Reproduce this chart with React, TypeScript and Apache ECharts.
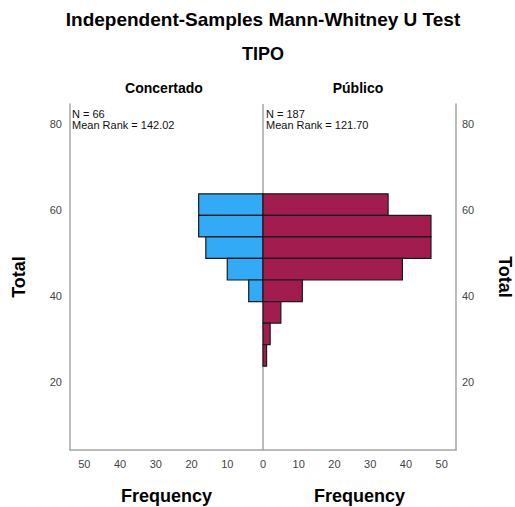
import React, { useEffect, useRef } from "react";
import * as echarts from "echarts";

const groups = ["Concertado", "Público"];
const nValues = [66, 187];
const meanRanks = ["142.02", "121.70"];
// bin edges of Total (low, high)
const binLows = [58.75, 53.75, 48.75, 43.75, 38.75, 33.75, 28.75, 23.75];
const binWidth = 5;
const concertadoFreq = [18, 18, 16, 10, 4, 0, 0, 0];
const publicoFreq = [35, 47, 47, 39, 11, 5, 2, 1];
const freqTicks = [0, 10, 20, 30, 40, 50];
const totalTicks = [20, 40, 60, 80];

const FONT = "Liberation Sans, Arial, sans-serif";
const AXIS_GRAY = "#a6a6a6";
const BLUE = "#33aaf5";
const RED = "#a31c4f";

function makeData(freq: number[]) {
  return binLows
    .map((lo, i) => [lo, lo + binWidth, freq[i]])
    .filter((d) => d[2] > 0);
}

function renderBar(color: string) {
  return (params: any, api: any) => {
    const lo = api.value(0);
    const hi = api.value(1);
    const f = api.value(2);
    const p1 = api.coord([0, hi]);
    const p2 = api.coord([f, lo]);
    const x = Math.min(p1[0], p2[0]);
    const w = Math.abs(p2[0] - p1[0]);
    const y = Math.min(p1[1], p2[1]);
    const h = Math.abs(p2[1] - p1[1]);
    return {
      type: "rect",
      shape: { x, y, width: w, height: h },
      style: { fill: color, stroke: "#1a1a1a", lineWidth: 1.2 },
    };
  };
}

export default function App() {
  const ref = useRef<HTMLDivElement>(null);
  useEffect(() => {
    if (!ref.current) return;
    const chart = echarts.init(ref.current, null, { renderer: "svg" });
    const yMin = 4.3;
    const yMax = 84.6;
    const xMax = 54;
    const yAxisCommon = {
      type: "value",
      min: yMin,
      max: yMax,
      axisLine: { show: true, onZero: false, lineStyle: { color: AXIS_GRAY, width: 1.5 } },
      axisTick: { show: false },
      splitLine: { show: false },
      nameLocation: "middle",
      nameTextStyle: { fontFamily: FONT, fontSize: 18, fontWeight: "bold", color: "#000" },
    };
    const xAxisCommon = {
      type: "value",
      min: 0,
      max: xMax,
      axisLine: { show: true, onZero: false, lineStyle: { color: AXIS_GRAY, width: 1.5 } },
      axisTick: { show: false },
      splitLine: { show: false },
      nameLocation: "middle",
      nameGap: 37,
      nameTextStyle: { fontFamily: FONT, fontSize: 18, fontWeight: "bold", color: "#000" },
    };
    const labelStyle = { fontFamily: FONT, fontSize: 11, color: "#444" };
    chart.setOption({
      animation: false,
      grid: [
        { left: 70, right: 252, top: 104, bottom: 57, outerBoundsMode: "none", containLabel: false },
        { left: 263, right: 59, top: 104, bottom: 57, outerBoundsMode: "none", containLabel: false },
      ],
      xAxis: [
        {
          ...xAxisCommon,
          gridIndex: 0,
          inverse: true,
          name: "Frequency",
          axisLabel: { ...labelStyle, margin: 8, customValues: freqTicks.slice(1) },
        },
        {
          ...xAxisCommon,
          gridIndex: 1,
          name: "Frequency",
          axisLabel: { ...labelStyle, margin: 8, customValues: freqTicks },
        },
      ],
      yAxis: [
        {
          ...yAxisCommon,
          gridIndex: 0,
          position: "left",
          name: "Total",
          nameRotate: 90,
          nameGap: 42,
          axisLabel: { ...labelStyle, margin: 8, customValues: totalTicks },
        },
        {
          ...yAxisCommon,
          gridIndex: 1,
          position: "right",
          name: "Total",
          nameRotate: -90,
          nameGap: 40,
          axisLabel: { ...labelStyle, margin: 6, customValues: totalTicks },
        },
      ],
      graphic: [
        {
          type: "text",
          x: 263,
          y: 19,
          style: {
            text: "Independent-Samples Mann-Whitney U Test",
            fontFamily: FONT,
            fontSize: 19,
            fontWeight: "bold",
            fill: "#000",
            align: "center",
            verticalAlign: "middle",
          },
        },
        {
          type: "text",
          x: 263,
          y: 54,
          style: {
            text: "TIPO",
            fontFamily: FONT,
            fontSize: 18,
            fontWeight: "bold",
            fill: "#000",
            align: "center",
            verticalAlign: "middle",
          },
        },
        {
          type: "text",
          x: 164,
          y: 88,
          style: {
            text: groups[0],
            fontFamily: FONT,
            fontSize: 14,
            fontWeight: "bold",
            fill: "#000",
            align: "center",
            verticalAlign: "middle",
          },
        },
        {
          type: "text",
          x: 358,
          y: 88,
          style: {
            text: groups[1],
            fontFamily: FONT,
            fontSize: 14,
            fontWeight: "bold",
            fill: "#000",
            align: "center",
            verticalAlign: "middle",
          },
        },
        {
          type: "text",
          x: 72,
          y: 108,
          style: {
            text: `N = ${nValues[0]}\nMean Rank = ${meanRanks[0]}`,
            fontFamily: FONT,
            fontSize: 11,
            lineHeight: 11,
            fill: "#111",
          },
        },
        {
          type: "text",
          x: 266,
          y: 108,
          style: {
            text: `N = ${nValues[1]}\nMean Rank = ${meanRanks[1]}`,
            fontFamily: FONT,
            fontSize: 11,
            lineHeight: 11,
            fill: "#111",
          },
        },
      ],
      series: [
        {
          type: "custom",
          xAxisIndex: 0,
          yAxisIndex: 0,
          renderItem: renderBar(BLUE),
          encode: { x: 2, y: [0, 1] },
          data: makeData(concertadoFreq),
        },
        {
          type: "custom",
          xAxisIndex: 1,
          yAxisIndex: 1,
          renderItem: renderBar(RED),
          encode: { x: 2, y: [0, 1] },
          data: makeData(publicoFreq),
          markLine: {
            silent: true,
            symbol: "none",
            label: { show: false },
            lineStyle: { color: AXIS_GRAY, width: 1.5, type: "solid" },
            data: [{ xAxis: 0 }],
            z: 0,
          },
        },
      ],
    });
    return () => chart.dispose();
  }, []);
  return (
    <div
      ref={ref}
      style={{ position: "fixed", left: 0, top: 0, width: 515, height: 507, background: "#fff" }}
    />
  );
}
